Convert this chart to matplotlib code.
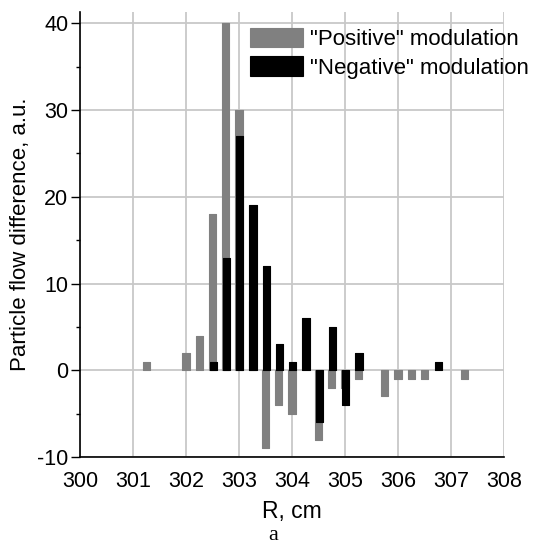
import matplotlib.pyplot as plt
from matplotlib.ticker import MultipleLocator

# "Positive" modulation (grey bars)
pos_r = [301.25, 302.0, 302.25, 302.5, 302.75, 303.0, 303.25, 303.5, 303.75,
         304.0, 304.5, 304.75, 305.0, 305.25, 305.75, 306.0, 306.25, 306.5, 307.25]
pos_val = [1, 2, 4, 18, 40, 30, 8, -9, -4,
           -5, -8, -2, -2, -1, -3, -1, -1, -1, -1]

# "Negative" modulation (black bars)
neg_r = [302.5, 302.75, 303.0, 303.25, 303.5, 303.75, 304.0, 304.25,
         304.5, 304.75, 305.0, 305.25, 306.75]
neg_val = [1, 13, 27, 19, 12, 3, 1, 6, -6, 5, -4, 2, 1]

x_ticks = [300, 301, 302, 303, 304, 305, 306, 307, 308]
y_ticks = [-10, 0, 10, 20, 30, 40]

plt.rcParams['font.family'] = ['Liberation Sans', 'DejaVu Sans']
plt.rcParams['axes.unicode_minus'] = False

fig = plt.figure(figsize=(5.46, 5.49), dpi=100)
ax = fig.add_axes([0.1465, 0.1676, 0.7765, 0.8104])

ax.bar(pos_r, pos_val, width=0.14, color='#808080', edgecolor='#808080',
       linewidth=0.8, joinstyle='round', label='"Positive" modulation', zorder=3)
ax.bar([r + 0.015 for r in neg_r], neg_val, width=0.14, color='black',
       edgecolor='black', linewidth=0.8, joinstyle='round',
       label='"Negative" modulation', zorder=4)

ax.set_xlim(300, 308)
ax.set_ylim(-10, 41.3)
ax.set_xticks(x_ticks)
ax.set_yticks(y_ticks)
ax.yaxis.set_minor_locator(MultipleLocator(5))

ax.grid(True, color='#c8c8c8', linewidth=1.3, zorder=0)
ax.set_axisbelow(True)

for s in ['top', 'right']:
    ax.spines[s].set_visible(False)
for s in ['left', 'bottom']:
    ax.spines[s].set_linewidth(1.2)

ax.tick_params(axis='x', length=0, labelsize=15.5, pad=10)
ax.tick_params(axis='y', which='major', direction='out', length=6.5, width=1,
               labelsize=15.5, pad=2)
ax.tick_params(axis='y', which='minor', direction='out', length=3, width=1)

ax.set_xlabel('R, cm', fontsize=16.5, labelpad=6)
ax.set_ylabel('Particle flow difference, a.u.', fontsize=16, labelpad=4)

ax.legend(loc='upper left', bbox_to_anchor=(0.38, 0.985), frameon=False,
          fontsize=16, handlelength=2.4, handleheight=0.98,
          handletextpad=0.3, labelspacing=0.28, borderaxespad=0)

fig.text(0.5, 0.008, 'a', family='Liberation Serif', fontsize=16,
         ha='center', va='bottom')

fig.savefig('out.png', dpi=100)
